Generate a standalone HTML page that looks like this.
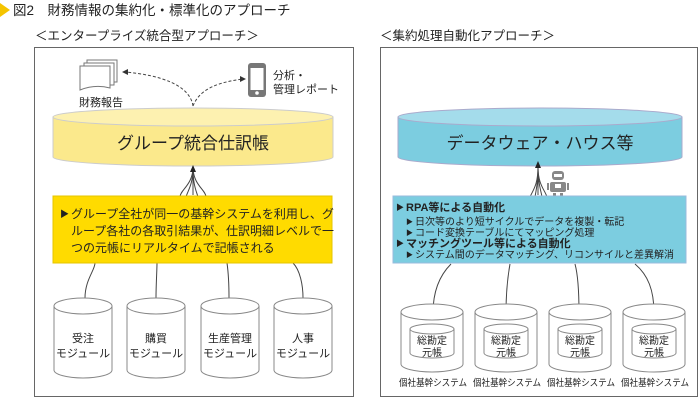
<!DOCTYPE html>
<html><head><meta charset="utf-8"><style>
body{margin:0;background:#fff}
svg{display:block}
text{font-family:"Liberation Sans","Noto Sans CJK JP",sans-serif;fill:#222}
</style></head><body>
<svg width="700" height="400" viewBox="0 0 700 400" xmlns="http://www.w3.org/2000/svg">
<polygon points="0,3 10,10 0,17" fill="#f5c400"/>
<text x="13" y="15" font-size="13.5">図2　財務情報の集約化・標準化のアプローチ</text>
<text x="35" y="40" font-size="12.5">＜エンタープライズ統合型アプローチ＞</text>
<text x="380" y="40" font-size="12.5">＜集約処理自動化アプローチ＞</text>
<rect x="34.5" y="47.5" width="319" height="349" fill="none" stroke="#666" stroke-width="1"/>
<rect x="380.5" y="47.5" width="317" height="349" fill="none" stroke="#666" stroke-width="1"/>

<g fill="#fff" stroke="#777">
<path d="M87,60 h30 v22 h-30z"/><path d="M84,63 h30 v22 h-30z"/>
<path d="M80,66 h30 v22 q-15,-4 -30,2z"/>
</g>
<text x="79" y="106" font-size="11">財務報告</text>
<rect x="248" y="63" width="18" height="34" rx="3" fill="#777"/>
<rect x="250.5" y="68" width="13" height="22" fill="#fff"/>
<circle cx="257" cy="93" r="1.8" fill="#fff"/>
<text x="273" y="79" font-size="11">分析・</text>
<text x="273" y="93" font-size="11">管理レポート</text>
<g fill="none" stroke="#444" stroke-dasharray="3,2">
<path d="M193,106 C190,85 160,75 125,72"/>
<path d="M193,106 C200,88 220,82 243,79"/>
</g>
<polygon points="122,72 128,69 128,75" fill="#333"/>
<polygon points="246,79 240,76 240,82" fill="#333"/>

<path d="M53,117 v40 a140,9 0 0 0 280,0 v-40z" fill="#fbe98c" stroke="#ccc"/>
<ellipse cx="193" cy="117" rx="140" ry="9" fill="#fdf1b0" stroke="#ccc"/>
<text x="193" y="149" font-size="17" text-anchor="middle">グループ統合仕訳帳</text>

<g fill="none" stroke="#444">
<path d="M193,167 C193,185 180,190 180,197"/><path d="M193,167 C193,185 188,190 186,197"/>
<path d="M193,167 C193,185 196,190 198,197"/><path d="M193,167 C193,185 206,190 206,197"/>
<path d="M193,170 v25"/>
<path d="M85,298 C85,280 95,270 95,263"/><path d="M156,298 C156,285 157,270 157,263"/>
<path d="M229,298 C229,285 228,270 227,263"/><path d="M303,298 C303,285 300,270 293,263"/>
</g>
<polygon points="193,165 190,172 196,172" fill="#222"/>
<rect x="53" y="196" width="279" height="67" fill="#ffdb00" stroke="#e5c400"/>
<text x="60" y="217" font-size="9">▶</text>
<text x="71" y="218" font-size="12">グループ全社が同一の基幹システムを利用し、グ</text>
<text x="71" y="235" font-size="12">ループ各社の各取引結果が、仕訳明細レベルで一</text>
<text x="71" y="252" font-size="12">つの元帳にリアルタイムで記帳される</text>

<g fill="#fff" stroke="#888">
<path d="M54,306 v64 a29,8 0 0 0 58,0 v-64"/><ellipse cx="83" cy="306" rx="29" ry="8"/>
<path d="M127,306 v64 a29,8 0 0 0 58,0 v-64"/><ellipse cx="156" cy="306" rx="29" ry="8"/>
<path d="M201,306 v64 a29,8 0 0 0 58,0 v-64"/><ellipse cx="230" cy="306" rx="29" ry="8"/>
<path d="M274,306 v64 a29,8 0 0 0 58,0 v-64"/><ellipse cx="303" cy="306" rx="29" ry="8"/>
</g>
<g font-size="11" text-anchor="middle">
<text x="83" y="342">受注</text><text x="83" y="357">モジュール</text>
<text x="156" y="342">購買</text><text x="156" y="357">モジュール</text>
<text x="230" y="342">生産管理</text><text x="230" y="357">モジュール</text>
<text x="303" y="342">人事</text><text x="303" y="357">モジュール</text>
</g>

<path d="M398,117 v40 a142,9 0 0 0 284,0 v-40z" fill="#7ccde0" stroke="#aac"/>
<ellipse cx="540" cy="117" rx="142" ry="9" fill="#a4dceb" stroke="#aac"/>
<text x="540" y="149" font-size="17" text-anchor="middle">データウェア・ハウス等</text>

<g fill="#888">
<rect x="552" y="171" width="12" height="9" rx="3"/>
<rect x="550" y="182" width="16" height="10" rx="2"/>
<rect x="547" y="183" width="2" height="7"/><rect x="567" y="183" width="2" height="7"/>
<rect x="553" y="193" width="3" height="3"/><rect x="560" y="193" width="3" height="3"/>
</g>
<rect x="554" y="174" width="8" height="3" fill="#fff"/>
<rect x="555" y="184" width="6" height="4" fill="#fff"/>

<g fill="none" stroke="#444">
<path d="M538,167 C538,185 533,190 530,197"/><path d="M538,167 C538,185 536,190 535,197"/>
<path d="M538,167 C538,185 541,190 542,197"/><path d="M538,167 C538,185 545,190 547,197"/>
<path d="M538,170 v25"/>
<path d="M433,313 C433,290 440,275 451,264"/><path d="M506,313 C506,290 508,275 510,264"/>
<path d="M579,313 C579,290 578,275 575,264"/><path d="M654,313 C654,290 648,275 635,264"/>
</g>
<polygon points="538,161 535,168 541,168" fill="#222"/>
<rect x="393" y="196" width="293" height="67" fill="#7ccde0" stroke="#9bd"/>
<g font-size="11">
<text x="396" y="210" font-size="8">▶</text><text x="406" y="211" font-weight="bold">RPA等による自動化</text>
<text x="406" y="224" font-size="7">▶</text><text x="415" y="225" font-size="10">日次等のより短サイクルでデータを複製・転記</text>
<text x="406" y="235" font-size="7">▶</text><text x="415" y="236" font-size="10">コード変換テーブルにてマッピング処理</text>
<text x="396" y="246" font-size="8">▶</text><text x="406" y="247" font-weight="bold">マッチングツール等による自動化</text>
<text x="406" y="257" font-size="7">▶</text><text x="415" y="258" font-size="10">システム間のデータマッチング、リコンサイルと差異解消</text>
</g>

<g fill="#fff" stroke="#888">
<path d="M401,312 v52 a31,8 0 0 0 62,0 v-52"/><ellipse cx="432" cy="312" rx="31" ry="8"/>
<path d="M475,312 v52 a31,8 0 0 0 62,0 v-52"/><ellipse cx="506" cy="312" rx="31" ry="8"/>
<path d="M549,312 v52 a31,8 0 0 0 62,0 v-52"/><ellipse cx="580" cy="312" rx="31" ry="8"/>
<path d="M623,312 v52 a31,8 0 0 0 62,0 v-52"/><ellipse cx="654" cy="312" rx="31" ry="8"/>
<path d="M410,329 v24 a22,5 0 0 0 44,0 v-24"/><ellipse cx="432" cy="329" rx="22" ry="5"/>
<path d="M484,329 v24 a22,5 0 0 0 44,0 v-24"/><ellipse cx="506" cy="329" rx="22" ry="5"/>
<path d="M558,329 v24 a22,5 0 0 0 44,0 v-24"/><ellipse cx="580" cy="329" rx="22" ry="5"/>
<path d="M632,329 v24 a22,5 0 0 0 44,0 v-24"/><ellipse cx="654" cy="329" rx="22" ry="5"/>
</g>
<g font-size="10" text-anchor="middle">
<text x="432" y="344">総勘定</text><text x="432" y="356">元帳</text>
<text x="506" y="344">総勘定</text><text x="506" y="356">元帳</text>
<text x="580" y="344">総勘定</text><text x="580" y="356">元帳</text>
<text x="654" y="344">総勘定</text><text x="654" y="356">元帳</text>
</g>
<g font-size="9.5">
<text x="399" y="386" textLength="68" lengthAdjust="spacingAndGlyphs">個社基幹システム</text>
<text x="473" y="386" textLength="68" lengthAdjust="spacingAndGlyphs">個社基幹システム</text>
<text x="547" y="386" textLength="68" lengthAdjust="spacingAndGlyphs">個社基幹システム</text>
<text x="621" y="386" textLength="68" lengthAdjust="spacingAndGlyphs">個社基幹システム</text>
</g>
</svg>
</body></html>
